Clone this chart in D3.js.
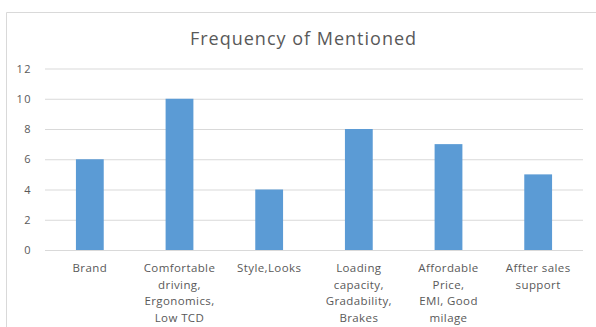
<!DOCTYPE html>
<html><head><meta charset="utf-8">
<script src="https://cdn.jsdelivr.net/npm/d3@7"></script>
<style>body{margin:0;background:#fff}svg{display:block}</style>
</head><body>
<svg id="c" width="596" height="327"></svg>
<script>
const categories = [
  ["Brand"],
  ["Comfortable","driving,","Ergonomics,","Low TCD"],
  ["Style,Looks"],
  ["Loading","capacity,","Gradability,","Brakes"],
  ["Affordable","Price,","EMI, Good","milage"],
  ["Affter sales","support"]
];
const values = [6, 10, 4, 8, 7, 5];
const yTicks = [0, 2, 4, 6, 8, 10, 12];
const title = "Frequency of Mentioned";

const svg = d3.select("#c");
const font = "'Open Sans', 'DejaVu Sans', sans-serif";
const m = {left: 45, right: 583, top: 68.5, bottom: 250};

// chart border
svg.append("path").attr("d", "M6.5,327 V12.5 H596").attr("fill","none").attr("stroke","#d9d9d9").attr("stroke-width",1);

const x = d3.scaleBand().domain(d3.range(categories.length)).range([m.left, m.right]).paddingInner(0.69).paddingOuter(0.345);
const y = d3.scaleLinear().domain([0, 12]).range([m.bottom, m.top]);

const yAxis = svg.append("g").attr("transform", `translate(${m.left},0)`)
  .call(d3.axisLeft(y).tickValues(yTicks).tickSize(-(m.right - m.left)).tickPadding(13));
yAxis.select(".domain").remove();
yAxis.selectAll("line").attr("stroke", "#d9d9d9");
yAxis.selectAll("text").attr("fill", "#595959").style("font-family", font).style("font-size", "11px").style("letter-spacing","1.5px");

svg.append("g").selectAll("rect").data(values).join("rect")
  .attr("x", (d,i) => x(i)).attr("width", x.bandwidth())
  .attr("y", d => y(d)).attr("height", d => y(0) - y(d))
  .attr("fill", "#5b9bd5");

const lab = svg.append("g").selectAll("text").data(categories).join("text")
  .attr("text-anchor", "middle").attr("fill", "#595959")
  .style("font-family", font).style("font-size", "11.5px").style("letter-spacing","0.4px")
  .attr("x", (d,i) => x(i) + x.bandwidth()/2).attr("y", 272);
lab.selectAll("tspan").data(d => d).join("tspan")
  .attr("x", function(){ return this.parentNode.getAttribute("x"); })
  .attr("dy", (d,i) => i === 0 ? 0 : 16.5).text(d => d);

svg.append("text").attr("x", 303.5).attr("y", 45).attr("text-anchor","middle")
  .attr("fill","#595959").style("font-family", font).style("font-size","18px").style("letter-spacing","1px").text(title);
</script>
</body></html>
